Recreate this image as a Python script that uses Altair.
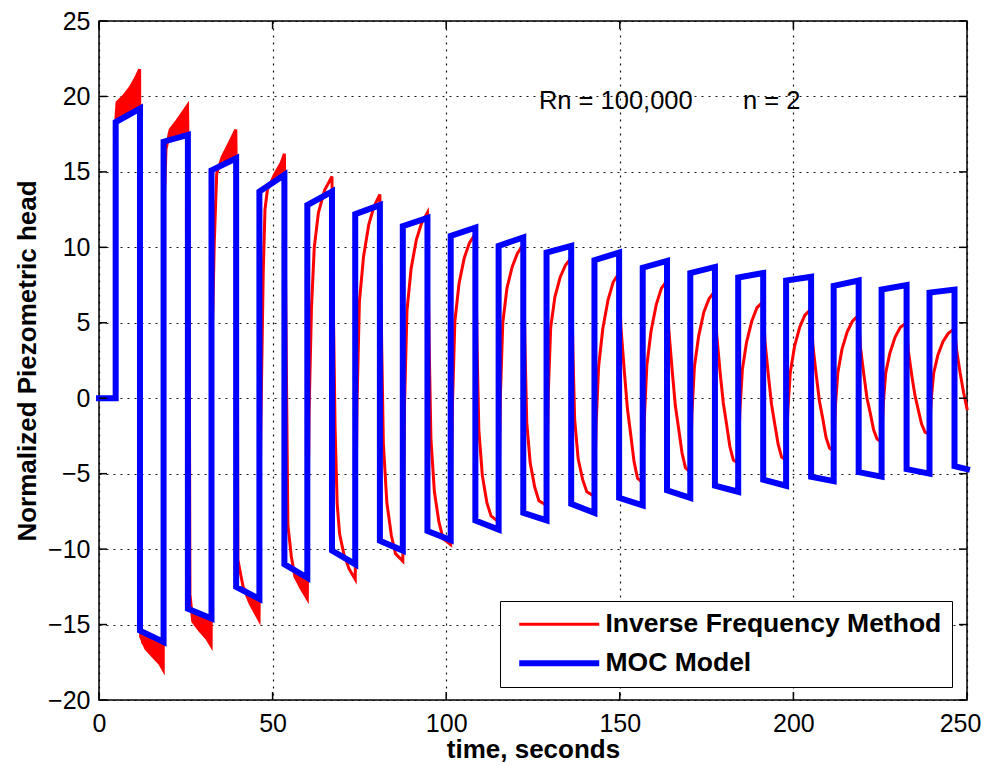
import altair as alt
import pandas as pd

FONT = "Liberation Sans, Arial, sans-serif"
W, H = 868, 679

# ---------------- data ----------------
series_names = ["Inverse Frequency Method", "MOC Model"]

# MOC model (blue): switching instants and plateau levels of each cycle
moc_rise = [4.8, 18.6, 32.4, 46.2, 60.0, 73.8, 87.5, 101.3, 115.1, 128.9,
            142.7, 156.6, 170.3, 184.1, 197.9, 211.6, 225.4, 239.2]
moc_drop = [11.8, 25.6, 39.5, 53.4, 67.1, 80.9, 94.6, 108.4, 122.2, 136.0,
            149.8, 163.6, 177.4, 191.3, 205.1, 218.8, 232.6, 246.4]
moc_top_start = [18.3, 17.0, 15.1, 13.7, 12.8, 12.2, 11.4, 10.75, 10.1, 9.65,
                 9.15, 8.65, 8.3, 8.0, 7.8, 7.45, 7.2, 7.0]
moc_top_end = [19.2, 17.45, 15.9, 14.8, 13.7, 12.8, 11.95, 11.3, 10.65, 10.1,
               9.65, 9.1, 8.7, 8.3, 8.05, 7.8, 7.5, 7.2]
moc_bot_start = [-15.4, -13.95, -12.5, -11.0, -10.1, -9.45, -8.8, -8.1, -7.6, -7.0,
                 -6.6, -6.1, -5.8, -5.4, -5.2, -4.9, -4.7, -4.5]
moc_bot_end = [-16.15, -14.6, -13.3, -11.9, -11.0, -10.1, -9.4, -8.7, -8.1, -7.6,
               -7.1, -6.6, -6.2, -5.8, -5.5, -5.2, -5.0, -4.7]
t_start, t_end = 0.0, 250.0

# Inverse Frequency Method (red) trace
ifm_t = [0.0, 4.8,
         4.9, 5.2, 7.0, 9.0, 10.5, 11.7, 12.0, 13.5, 15.5, 17.5, 18.5,
         18.8, 19.3, 20.5, 22.5, 24.0, 25.5, 25.9, 26.2, 27.0, 29.0, 31.0, 32.3,
         32.7, 33.2, 33.9, 35.5, 37.5, 39.4, 39.8, 40.0, 41.5, 43.5, 46.1,
         46.6, 47.3, 47.8, 48.5, 50.5, 52.5, 53.4, 53.8, 54.4, 55.4, 56.4, 58.2, 60.0,
         60.5, 61.2, 62.0, 63.2, 65.0, 67.1, 67.5, 68.0, 68.6, 69.3, 70.5, 72.0, 73.8,
         74.3, 75.0, 76.2, 77.7, 79.2, 80.9, 81.4, 81.9, 82.9, 84.2, 85.4, 87.5,
         88.0, 88.7, 89.9, 91.4, 92.9, 94.6, 95.1, 95.6, 96.6, 97.9, 99.1, 101.3,
         101.8, 102.5, 103.7, 105.2, 106.7, 108.4, 108.9, 109.4, 110.4, 111.7, 112.9, 115.1,
         115.6, 116.3, 117.5, 119.0, 120.5, 122.2, 122.7, 123.2, 124.2, 125.5, 126.7, 128.9,
         129.4, 130.1, 131.3, 132.8, 134.3, 136.0, 136.5, 137.0, 138.0, 139.3, 140.5, 142.7,
         143.2, 143.9, 145.1, 146.6, 148.1, 149.8, 150.3, 151.3, 152.2, 153.2, 154.1, 155.1, 156.6,
         157.1, 157.8, 159.0, 160.5, 162.0, 163.6, 164.1, 165.1, 166.0, 167.0, 167.9, 168.9, 170.3,
         170.8, 171.5, 172.7, 174.2, 175.7, 177.4, 177.9, 178.9, 179.8, 180.8, 181.7, 182.7, 184.1,
         184.6, 185.3, 186.5, 188.0, 189.5, 191.3, 191.8, 192.8, 193.7, 194.7, 195.6, 196.6, 197.9,
         198.4, 199.1, 200.3, 201.8, 203.3, 205.1, 205.6, 206.6, 207.5, 208.5, 209.4, 210.4, 211.6,
         212.1, 212.8, 214.0, 215.5, 217.0, 218.8, 219.3, 220.3, 221.2, 222.2, 223.1, 224.1, 225.4,
         225.9, 226.6, 227.8, 229.3, 230.8, 232.6, 233.1, 234.1, 235.0, 236.0, 236.9, 237.9, 239.2,
         239.7, 240.4, 241.6, 243.1, 244.6, 246.4, 247.0, 248.0, 249.0, 250.0]
ifm_v = [0.0, 0.0,
         18.6, 19.6, 20.0, 20.6, 21.2, 21.8, -15.8, -16.6, -17.1, -17.6, -18.0,
         13.0, 16.5, 17.8, 18.4, 18.9, 19.4, 12.0, -13.0, -14.8, -15.4, -15.9, -16.4,
         5.0, 10.3, 14.9, 16.0, 16.9, 17.8, 10.0, -10.7, -12.5, -13.6, -14.7,
         -2.0, 8.3, 12.5, 13.8, 14.8, 15.6, 16.2, 6.0, -8.4, -10.5, -11.8, -12.6, -13.3,
         -1.0, 6.0, 10.0, 12.3, 13.8, 14.7, 6.0, -2.0, -7.0, -9.0, -10.3, -11.3, -12.0,
         -0.5, 6.4, 9.4, 11.5, 12.7, 13.5, 3.8, -3.0, -6.9, -9.1, -10.3, -10.8,
         -0.4, 5.8, 8.6, 10.5, 11.6, 12.3, 3.5, -2.7, -6.2, -8.2, -9.3, -9.7,
         -0.4, 5.1, 7.6, 9.3, 10.3, 10.9, 3.3, -2.1, -5.1, -6.9, -7.8, -8.2,
         0.1, 5.0, 7.3, 8.7, 9.6, 10.2, 3.3, -1.6, -4.3, -5.9, -6.8, -7.1,
         0.3, 4.7, 6.7, 8.0, 8.8, 9.3, 3.0, -1.4, -4.0, -5.4, -6.2, -6.5,
         -1.6, 2.1, 4.6, 6.5, 7.7, 8.3, 4.8, 1.8, -0.7, -2.5, -4.2, -5.3, -5.6,
         -1.2, 2.2, 4.45, 6.2, 7.3, 7.8, 4.6, 1.8, -0.5, -2.1, -3.6, -4.6, -4.9,
         -0.9, 2.1, 4.1, 5.7, 6.6, 7.1, 4.25, 1.7, -0.3, -1.8, -3.2, -4.1, -4.3,
         -0.8, 1.9, 3.7, 5.1, 6.0, 6.4, 3.8, 1.5, -0.4, -1.8, -3.05, -3.9, -4.1,
         -0.8, 1.7, 3.4, 4.7, 5.5, 5.9, 3.55, 1.5, -0.2, -1.4, -2.6, -3.3, -3.5,
         -0.5, 1.7, 3.25, 4.4, 5.1, 5.5, 3.4, 1.55, 0.0, -1.05, -2.1, -2.7, -2.9,
         -0.3, 1.7, 3.0, 4.05, 4.7, 5.0, 3.15, 1.5, 0.2, -0.8, -1.7, -2.25, -2.4,
         -0.1, 1.66, 2.85, 3.76, 4.3, 4.6, 3.2, 1.7, 0.4, -0.7]

# fast oscillation envelope of the red trace in the first cycles
band_seg = [0] * 5 + [1] * 5 + [2] * 4 + [3] * 4 + [4] * 3 + [5] * 3 + [6] * 3 + [7] * 3
band_t = [5.0, 7.0, 9.0, 10.5, 11.7, 12.1, 13.5, 15.5, 17.5, 18.5,
          19.8, 22.5, 24.0, 25.5, 27.0, 29.0, 31.0, 32.3,
          35.5, 37.5, 39.4, 41.5, 43.5, 46.1, 50.5, 52.5, 53.4, 56.4, 58.2, 60.0]
band_lo = [18.4, 18.6, 18.8, 19.0, 19.2, -16.2, -16.6, -17.1, -17.6, -18.0,
           17.0, 17.2, 17.3, 17.4, -14.8, -15.4, -15.9, -16.4,
           15.5, 15.7, 15.9, -12.5, -13.6, -14.7, 14.3, 14.6, 14.8, -11.8, -12.6, -13.3]
band_hi = [19.6, 20.0, 20.6, 21.2, 21.8, -15.5, -15.6, -15.8, -16.0, -16.1,
           17.6, 18.4, 18.9, 19.4, -14.0, -14.2, -14.4, -14.6,
           16.0, 16.9, 17.8, -12.4, -12.9, -13.3, 14.8, 15.6, 16.2, -11.5, -11.8, -12.0]

ann_t = [126.7, 185.5]
ann_v = [19.7, 19.7]
ann_text = ["Rn = 100,000", "n = 2"]

x_ticks = [0, 50, 100, 150, 200, 250]
y_ticks = [-20, -15, -10, -5, 0, 5, 10, 15, 20, 25]

# ---------------- build tables ----------------
moc_t = [t_start, moc_rise[0]]
moc_v = [0.0, 0.0]
for k in range(len(moc_rise)):
    nxt = moc_rise[k + 1] if k + 1 < len(moc_rise) else t_end
    moc_t += [moc_rise[k], moc_drop[k], moc_drop[k], nxt]
    moc_v += [moc_top_start[k], moc_top_end[k], moc_bot_start[k], moc_bot_end[k]]

lines_df = pd.concat([
    pd.DataFrame({"t": ifm_t, "v": ifm_v, "series": series_names[0]}),
    pd.DataFrame({"t": moc_t, "v": moc_v, "series": series_names[1]}),
], ignore_index=True)
lines_df["i"] = range(len(lines_df))

band_df = pd.DataFrame({"seg": band_seg, "t": band_t, "lo": band_lo, "hi": band_hi})
ann_df = pd.DataFrame({"t": ann_t, "v": ann_v, "label": ann_text})
xt_df = pd.DataFrame({"t": x_ticks})
yt_df = pd.DataFrame({"v": y_ticks})

x_scale = alt.Scale(domain=[0, 250], nice=False, zero=False)
y_scale = alt.Scale(domain=[-20, 25], nice=False, zero=False)

X_TITLE = "time, seconds"
Y_TITLE = "Normalized Piezometric head"
x_axis = alt.Axis(values=x_ticks, title=X_TITLE, format="d", labelPadding=11,
                  labelFlush=False,
                  labelOffset={"condition": {"test": "datum.value === 250", "value": -7}, "value": 0},
                  titleY=57, titleBaseline="alphabetic")
y_axis = alt.Axis(values=y_ticks, title=Y_TITLE, format="d", labelPadding=9,
                  titleX=-72, titleBaseline="middle")


def X(field):
    return alt.X(field, scale=x_scale, axis=x_axis, title=X_TITLE)


def Y(field):
    return alt.Y(field, scale=y_scale, axis=y_axis, title=Y_TITLE)


legend = alt.Legend(
    title=None, orient="none", legendX=401, legendY=580, direction="vertical",
    symbolType="M-0.4,0H7.6", symbolSize=400,
    labelFont=FONT, labelFontSize=26.5, labelFontWeight="bold", labelColor="black",
    labelOffset=69, labelLimit=600,
    strokeColor="black", fillColor="white", padding=10, rowPadding=12,
)

band = alt.Chart(band_df).mark_area(color="#ff0000", opacity=1).encode(
    x=X("t:Q"), y=Y("lo:Q"), y2="hi:Q", detail="seg:N",
)

lines = alt.Chart(lines_df).mark_line(strokeJoin="miter", strokeCap="square").encode(
    x=X("t:Q"), y=Y("v:Q"),
    color=alt.Color("series:N", scale=alt.Scale(domain=series_names, range=["#ff0000", "#0000ff"]),
                    legend=legend),
    strokeWidth=alt.StrokeWidth("series:N", scale=alt.Scale(domain=series_names, range=[3, 6]),
                                legend=legend),
    order="i:Q",
)

ann = alt.Chart(ann_df).mark_text(align="left", baseline="middle", font=FONT, fontSize=25.5,
                                  color="black").encode(
    x=X("t:Q"), y=Y("v:Q"), text="label:N",
)

tick_style = dict(color="black", strokeWidth=1.5)
xt_bottom = alt.Chart(xt_df).mark_rule(**tick_style).encode(
    x=X("t:Q"), y=alt.value(H), y2=alt.value(H - 8))
xt_top = alt.Chart(xt_df).mark_rule(**tick_style).encode(
    x=X("t:Q"), y=alt.value(0), y2=alt.value(8))
yt_left = alt.Chart(yt_df).mark_rule(**tick_style).encode(
    y=Y("v:Q"), x=alt.value(0), x2=alt.value(8))
yt_right = alt.Chart(yt_df).mark_rule(**tick_style).encode(
    y=Y("v:Q"), x=alt.value(W), x2=alt.value(W - 8))

chart = alt.layer(band, lines, ann, xt_bottom, xt_top, yt_left, yt_right).properties(
    width=W, height=H,
    autosize=alt.AutoSizeParams(type="none"),
    padding={"left": 91, "top": 13, "right": 15, "bottom": 62},
    background="white",
).configure_view(
    stroke="black", strokeWidth=1.5,
).configure_axis(
    grid=True, gridColor="black", gridDash=[2, 5], gridWidth=1.2, gridOpacity=0.9,
    domain=False, ticks=False,
    labelFont=FONT, labelFontSize=25, labelColor="black",
    titleFont=FONT, titleFontSize=26, titleFontWeight="bold", titleColor="black",
)

chart.save("out.html", embed_options={"renderer": "svg", "actions": False})
